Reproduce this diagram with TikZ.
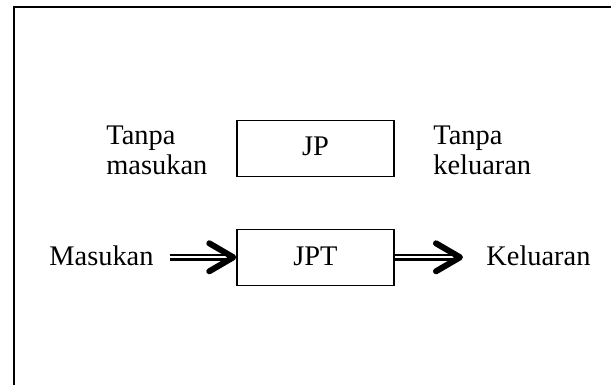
\documentclass[tikz,border=0pt]{standalone}
\usepackage{fontspec}
\setmainfont{Liberation Serif}
\usepackage{tikz}
\usetikzlibrary{arrows.meta}
\usetikzlibrary{positioning}

\begin{document}
\begin{tikzpicture}[x=0.5pt, y=-0.5pt, font=\fontsize{14.2pt}{15pt}\selectfont,
		sysbox/.style={draw, line width=0.7pt, minimum width=78.5pt, minimum height=28pt, inner sep=0pt},
		lbl/.style={inner sep=0pt, anchor=base west, align=left},
		flow/.style={double, line width=1.25pt, double distance=1pt,
			-{Straight Barb[length=12pt, width=14pt, line width=3pt, round]}}]
		\useasboundingbox (0,0) rectangle (611,385);
		\draw [line width=1.4pt] (14,385) -- (14,7) -- (611,7);
		
		\node [sysbox] (jp) at (315.5,148.7) {\raisebox{2pt}{JP}};
		\node [sysbox, below=25.6pt of jp] (jpt) {\raisebox{1pt}{JPT}};
		
		\node [lbl] (tmasuk) at (106,175) {Tanpa\\masukan};
		\node [lbl] (tkeluar) at (433,175) {Tanpa\\keluaran};
		\node [lbl] (masuk) at (49,265) {Masukan};
		\node [lbl] (keluar) at (486,265) {Keluaran};
		
		\draw [flow, shorten <=8pt] (masuk.east |- jpt.west) -- (jpt.west);
		\draw [flow, shorten >=11.5pt] (jpt.east) -- (keluar.west |- jpt.east);
	\end{tikzpicture}
\end{document}
